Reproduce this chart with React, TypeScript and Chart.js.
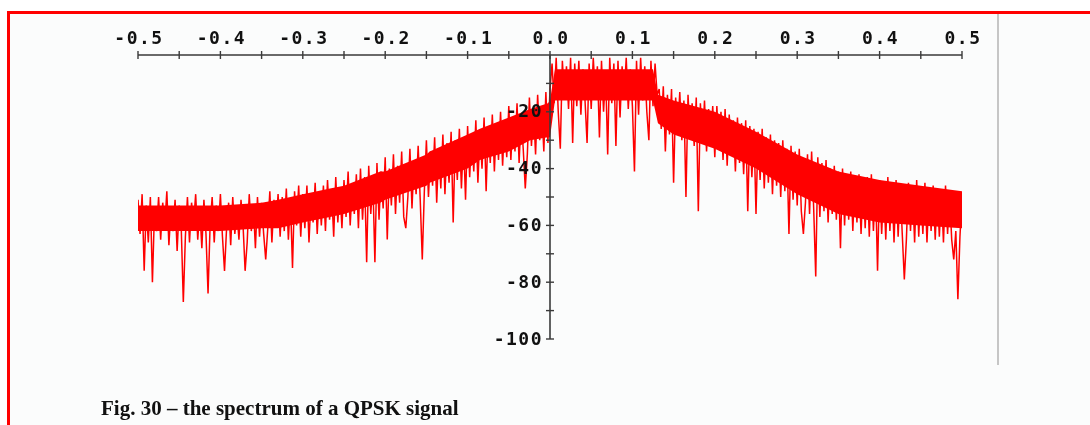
import React, { useEffect, useRef } from "react";
import { Chart, registerables } from "chart.js";

Chart.register(...registerables);

// Frequency grid (normalized frequency), one sample every FREQ_STEP
const FREQ_START = -0.5;
const FREQ_STEP = 0.0025;

// Spectrum in dB, negative frequencies (-0.5 .. -0.0025)
const spectrumNegDb: number[] = [
  -51, -63, -49, -76, -53, -66, -50, -80, -55, -62,
  -50, -65, -52, -60, -48, -67, -54, -62, -51, -69,
  -53, -61, -87, -64, -50, -66, -52, -59, -49, -65,
  -54, -68, -51, -63, -84, -60, -50, -66, -53, -62,
  -49, -64, -76, -61, -52, -67, -50, -63, -55, -65,
  -51, -60, -76, -66, -49, -62, -53, -68, -50, -64,
  -52, -63, -72, -61, -48, -66, -51, -60, -49, -64,
  -50, -62, -47, -65, -51, -75, -48, -60, -46, -64,
  -49, -61, -46, -66, -50, -59, -45, -63, -48, -60,
  -46, -62, -44, -58, -48, -64, -43, -59, -47, -61,
  -44, -57, -41, -60, -46, -56, -42, -61, -40, -58,
  -43, -73, -39, -56, -44, -73, -38, -58, -41, -54,
  -36, -65, -40, -53, -35, -56, -39, -52, -34, -57,
  -61, -50, -33, -54, -37, -49, -32, -51, -72, -48,
  -30, -50, -34, -46, -29, -52, -33, -47, -28, -49,
  -31, -45, -27, -59, -30, -44, -26, -47, -29, -51,
  -25, -43, -28, -41, -23, -45, -27, -40, -22, -48,
  -25, -38, -21, -41, -24, -37, -20, -39, -23, -36,
  -18, -37, -22, -34, -17, -38, -21, -33, -47, -35,
  -15, -32, -19, -35, -14, -30, -18, -34, -13, -31,
];

// Spectrum in dB, non-negative frequencies (0 .. 0.5)
const spectrumPosDb: number[] = [
  -12, -3, -17, -1, -20, -33, -2, -15, -4, -19,
  -1, -31, -3, -18, -2, -21, -5, -16, -31, -3,
  -19, -1, -14, -4, -29, -2, -20, -6, -35, -1,
  -17, -3, -32, -2, -22, -4, -15, -1, -19, -5,
  -18, -41, -2, -21, -1, -16, -4, -20, -30, -2,
  -18, -3, -14, -12, -26, -11, -34, -14, -28, -12,
  -45, -15, -27, -13, -30, -16, -50, -14, -29, -17,
  -32, -15, -55, -17, -31, -16, -34, -19, -30, -18,
  -36, -18, -33, -20, -37, -19, -39, -21, -35, -23,
  -41, -22, -38, -24, -42, -23, -55, -25, -43, -26,
  -56, -27, -44, -26, -47, -29, -45, -28, -49, -30,
  -46, -31, -50, -30, -48, -33, -63, -32, -51, -34,
  -53, -33, -55, -63, -52, -35, -56, -34, -54, -78,
  -36, -57, -38, -55, -37, -59, -40, -56, -39, -58,
  -41, -68, -40, -60, -42, -58, -41, -62, -43, -59,
  -42, -63, -44, -61, -43, -64, -42, -62, -45, -76,
  -44, -63, -46, -65, -43, -62, -45, -66, -44, -64,
  -46, -63, -79, -65, -45, -62, -47, -66, -44, -64,
  -47, -63, -45, -66, -48, -62, -46, -65, -47, -64,
  -48, -66, -46, -63, -49, -65, -72, -62, -86, -64,
  -50,
];

// Dense core of the noise band: frequency, upper and lower edge in dB
const bandFreqs = [
  -0.5, -0.45, -0.4, -0.35, -0.33, -0.3, -0.267, -0.25, -0.206, -0.2, -0.15, -0.146, -0.1, -0.085,
  -0.05, -0.024, -0.0025, 0.0, 0.006, 0.03, 0.06, 0.09, 0.125, 0.131, 0.15, 0.2, 0.25, 0.3,
  0.35, 0.4, 0.45, 0.5,
];
const bandUpperDb = [
  -53, -53, -53, -52, -51, -49, -47, -46, -41, -41, -35, -34, -28, -26,
  -22, -19, -17, -16, -5, -5, -5, -5, -5, -14, -16, -20, -27, -35,
  -41, -44, -46, -48,
];
const bandLowerDb = [
  -62, -62, -62, -61, -61, -59, -57, -56, -52, -51, -46, -45, -40, -37,
  -34, -30, -29, -29, -16, -16, -16, -16, -16, -24, -28, -33, -40, -49,
  -56, -59, -60, -61,
];

// Axis ticks
const xTickValues = [-0.5, -0.4, -0.3, -0.2, -0.1, 0.0, 0.1, 0.2, 0.3, 0.4, 0.5];
const xTickLabels = ["-0.5", "-0.4", "-0.3", "-0.2", "-0.1", "0.0", "0.1", "0.2", "0.3", "0.4", "0.5"];
const xMinorTickValues = [-0.45, -0.35, -0.25, -0.15, -0.05, 0.05, 0.15, 0.25, 0.35, 0.45];
const yTickValues = [-20, -40, -60, -80, -100];
const yTickLabels = ["-20", "-40", "-60", "-80", "-100"];
const yMinorTickValues = [-10, -30, -50, -70, -90];

const caption = "Fig. 30 \u2013 the spectrum of a QPSK signal";

const AXIS_FONT = "bold 18px 'DejaVu Sans Mono', monospace";
const AXIS_COLOR = "#3a3a3a";
const RED = "#ff0000";

const axesPlugin = {
  id: "crossAxes",
  afterDatasetsDraw(chart: any) {
    const ctx = chart.ctx as any;
    const xs = chart.scales.x;
    const ys = chart.scales.y;
    const y0 = ys.getPixelForValue(0);
    const x0 = xs.getPixelForValue(0);
    ctx.save();
    ctx.strokeStyle = AXIS_COLOR;
    ctx.fillStyle = "#111";
    ctx.lineWidth = 1.6;
    ctx.beginPath();
    ctx.moveTo(xs.getPixelForValue(-0.5), y0);
    ctx.lineTo(xs.getPixelForValue(0.5), y0);
    ctx.stroke();
    ctx.beginPath();
    ctx.moveTo(x0, y0);
    ctx.lineTo(x0, ys.getPixelForValue(-100));
    ctx.stroke();
    ctx.lineWidth = 1.4;
    [...xTickValues, ...xMinorTickValues].forEach((v) => {
      const px = xs.getPixelForValue(v);
      ctx.beginPath();
      ctx.moveTo(px, y0 - 4);
      ctx.lineTo(px, y0 + 4);
      ctx.stroke();
    });
    [...yTickValues, ...yMinorTickValues].forEach((v) => {
      const py = ys.getPixelForValue(v);
      ctx.beginPath();
      ctx.moveTo(x0 - 4, py);
      ctx.lineTo(x0 + 4, py);
      ctx.stroke();
    });
    ctx.font = AXIS_FONT;
    ctx.letterSpacing = "1.5px";
    ctx.textAlign = "center";
    ctx.textBaseline = "alphabetic";
    xTickValues.forEach((v, i) => {
      ctx.fillText(xTickLabels[i], xs.getPixelForValue(v) + 1, y0 - 11);
    });
    ctx.textAlign = "right";
    ctx.textBaseline = "middle";
    yTickValues.forEach((v, i) => {
      ctx.fillText(yTickLabels[i], x0 - 7, ys.getPixelForValue(v) + 1);
    });
    ctx.restore();
  },
};

export default function App() {
  const canvasRef = useRef<HTMLCanvasElement | null>(null);

  useEffect(() => {
    if (!canvasRef.current) return;
    const all = [...spectrumNegDb, ...spectrumPosDb];
    const points = all.map((y, i) => ({ x: FREQ_START + i * FREQ_STEP, y }));
    const upper = bandFreqs.map((f, i) => ({ x: f, y: bandUpperDb[i] }));
    const lower = bandFreqs.map((f, i) => ({ x: f, y: bandLowerDb[i] }));
    const chart = new Chart(canvasRef.current, {
      type: "line",
      data: {
        datasets: [
          {
            data: upper,
            borderWidth: 0,
            borderColor: RED,
            backgroundColor: RED,
            pointRadius: 0,
            fill: false,
          },
          {
            data: lower,
            borderWidth: 0,
            borderColor: RED,
            backgroundColor: RED,
            pointRadius: 0,
            fill: "-1",
          },
          {
            data: points,
            borderColor: RED,
            borderWidth: 1.5,
            borderJoinStyle: "bevel",
            pointRadius: 0,
            tension: 0,
            fill: false,
          },
        ],
      },
      options: {
        responsive: false,
        animation: false,
        events: [],
        layout: { padding: { left: 138, right: 128, top: 55, bottom: 86 } },
        scales: {
          x: { type: "linear", min: -0.5, max: 0.5, display: false },
          y: { type: "linear", min: -100, max: 0, display: false },
        },
        plugins: { legend: { display: false }, tooltip: { enabled: false } },
      },
      plugins: [axesPlugin],
    });
    return () => chart.destroy();
  }, []);

  return (
    <div
      style={{
        position: "fixed",
        left: 0,
        top: 0,
        width: 1090,
        height: 425,
        background: "#ffffff",
        overflow: "hidden",
      }}
    >
      <div
        style={{
          position: "absolute",
          left: 7,
          top: 11,
          width: 1200,
          height: 600,
          border: "3px solid #ff0000",
          background: "#fbfcfc",
        }}
      />
      <div
        style={{
          position: "absolute",
          left: 997,
          top: 14,
          width: 2,
          height: 351,
          background: "#c6c6c6",
        }}
      />
      <canvas
        ref={canvasRef}
        width={1090}
        height={425}
        style={{ position: "absolute", left: 0, top: 0, width: 1090, height: 425 }}
      />
      <div
        style={{
          position: "absolute",
          left: 101,
          top: 398,
          fontFamily: "'Liberation Serif', 'Times New Roman', serif",
          fontWeight: "bold",
          fontSize: 21,
          lineHeight: "21px",
          color: "#111",
          whiteSpace: "nowrap",
        }}
      >
        {caption}
      </div>
    </div>
  );
}
